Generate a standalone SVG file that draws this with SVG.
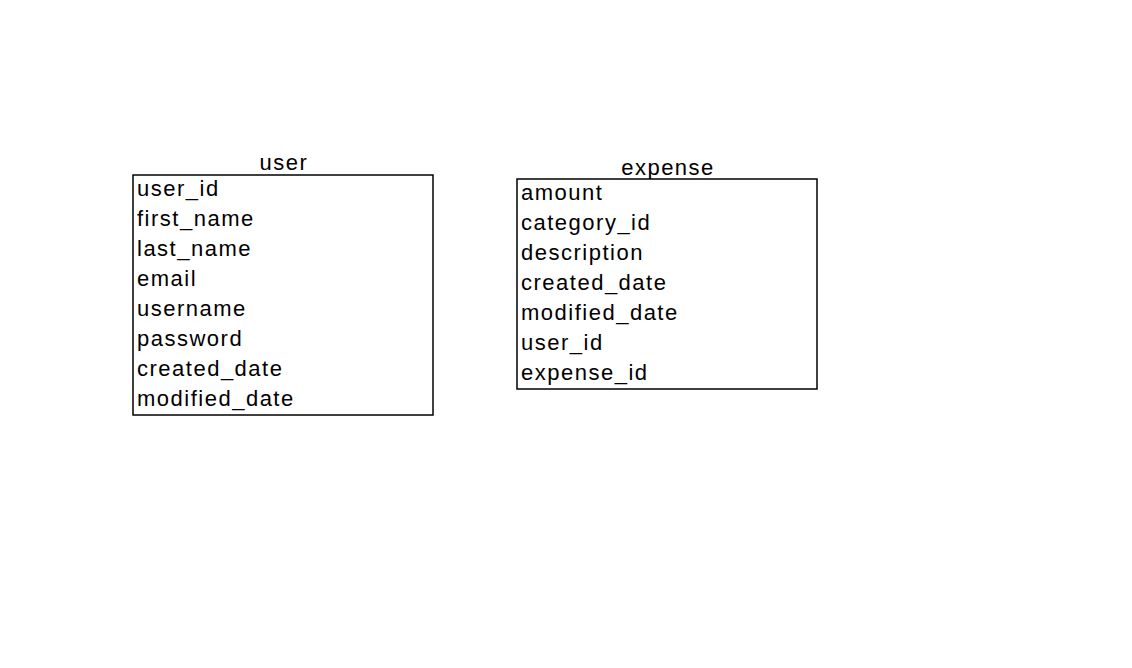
<svg xmlns="http://www.w3.org/2000/svg" width="1132" height="668" viewBox="0 0 1132 668">
<style>
.box{fill:#ffffff;stroke:#000000;stroke-width:1.5}
.t{font-family:"Liberation Sans",Arial,sans-serif;font-size:22px;letter-spacing:1.5px;fill:#000000}
.h{text-anchor:middle}
</style>
<rect x="0" y="0" width="1132" height="668" fill="#ffffff"/>
<g id="connectors"></g>
<g id="user">
<text class="t h" x="284" y="170">user</text>
<rect class="box" x="133" y="175" width="300" height="240"/>
<text class="t" x="137" y="196">user_id</text>
<text class="t" x="137" y="226">first_name</text>
<text class="t" x="137" y="256">last_name</text>
<text class="t" x="137" y="286">email</text>
<text class="t" x="137" y="316">username</text>
<text class="t" x="137" y="346">password</text>
<text class="t" x="137" y="376">created_date</text>
<text class="t" x="137" y="406">modified_date</text>
</g>
<g id="expense">
<text class="t h" x="668" y="175">expense</text>
<rect class="box" x="517" y="179" width="300" height="210"/>
<text class="t" x="521" y="200">amount</text>
<text class="t" x="521" y="230">category_id</text>
<text class="t" x="521" y="260">description</text>
<text class="t" x="521" y="290">created_date</text>
<text class="t" x="521" y="320">modified_date</text>
<text class="t" x="521" y="350">user_id</text>
<text class="t" x="521" y="380">expense_id</text>
</g>
</svg>
